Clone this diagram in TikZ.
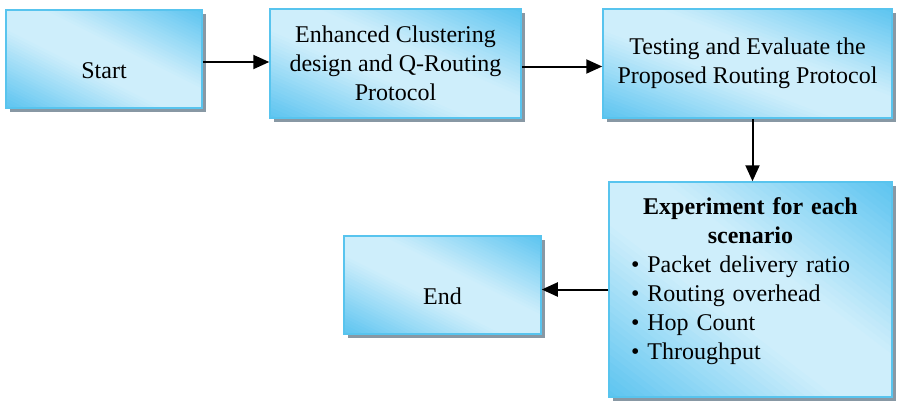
\documentclass[tikz,border=0pt]{standalone}
\usepackage{fontspec}
\setmainfont{Liberation Serif}
\usetikzlibrary{arrows.meta,shadows,calc}
\definecolor{boxdark}{RGB}{92,196,240}
\definecolor{boxlight}{RGB}{206,238,251}
\definecolor{boxline}{RGB}{88,196,238}
\definecolor{boxshade}{RGB}{136,152,164}
\begin{document}
\begin{tikzpicture}[x=1pt,y=1pt,>={Triangle[length=16pt,width=14pt]},
  % diagonal bands, dark in the NE and SW corners
  glow/.style={path picture={
    \foreach \k in {0,...,59}{
      \pgfmathtruncatemacro\tint{100*min(1,(1-abs((\k+0.5)/30-1))/0.8)}
      \fill[boxlight!\tint!boxdark] let \p1=(path picture bounding box.south west),
        \p2=(path picture bounding box.north east), \n1={\x2-\x1}, \n2={\y2-\y1},
        \n3={\k/30}, \n4={(\k+1.6)/30} in
        (\x1+\n3*\n1+0.5*\n1,\y1-0.5*\n2) -- (\x1+\n4*\n1+0.5*\n1,\y1-0.5*\n2)
        -- (\x1+\n4*\n1-1.5*\n1,\y1+1.5*\n2) -- (\x1+\n3*\n1-1.5*\n1,\y1+1.5*\n2) -- cycle;
    }}},
  stage/.style={draw=boxline,line width=1.5pt,fill=boxlight,glow,
    drop shadow={shadow xshift=4pt,shadow yshift=-4pt,fill=boxshade,opacity=1},
    align=center,font=\fontsize{24}{29}\selectfont,inner sep=0pt},
  low/.style={text height=38pt,text depth=0pt},
  link/.style={->,line width=2pt}]
\useasboundingbox (0,0) rectangle (905,-400);
\node[stage,low,minimum width=196pt,minimum height=98pt] (start) at (104,-59) {Start};
\node[stage,minimum width=251pt,minimum height=109pt] (design) at (395.5,-63.5) {Enhanced Clustering\\design and Q-Routing\\Protocol};
\node[stage,minimum width=289pt,minimum height=109pt] (test) at (747.5,-63.5) {Testing and Evaluate the\\Proposed Routing Protocol};
\node[stage,minimum width=283pt,minimum height=215pt,text width=283pt,align=left] (exper) at (750.5,-289.5)
{{\centering\bfseries Experiment for each\\scenario\par}
\hspace*{22pt}\textbullet\hspace{8pt}Packet delivery ratio\\
\hspace*{22pt}\textbullet\hspace{8pt}Routing overhead\\
\hspace*{22pt}\textbullet\hspace{8pt}Hop Count\\
\hspace*{22pt}\textbullet\hspace{8pt}Throughput\rule[-22pt]{0pt}{1pt}};
\node[stage,low,minimum width=197pt,minimum height=98pt] (done) at (442.5,-285) {End};
\draw[link] ([yshift=-3pt]start.east) -- ([yshift=-3pt]start.east -| design.west);
\draw[link] ([yshift=-3pt]design.east) -- ([yshift=-3pt]design.east -| test.west);
\draw[link] ([xshift=5pt]test.south) -- ([xshift=5pt]test.south |- exper.north);
\draw[link] (exper.west) -- (exper.west -| done.east);
\end{tikzpicture}
\end{document}
